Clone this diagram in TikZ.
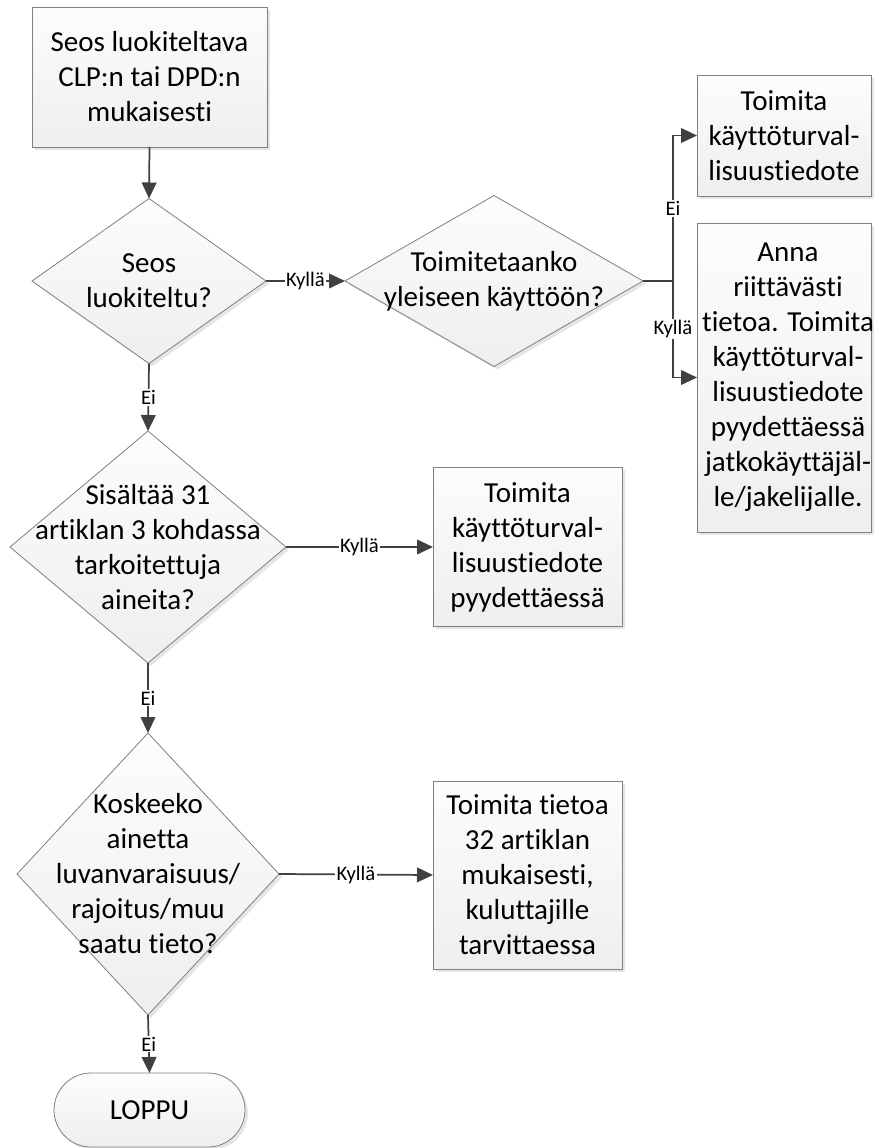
\documentclass[tikz,border=0pt]{standalone}
\usepackage{fontspec}
\setmainfont{Carlito}[Ligatures={NoCommon}]
\usetikzlibrary{shapes.geometric,shapes.misc,arrows.meta,shadows}
\definecolor{edgegray}{RGB}{128,128,128}
\definecolor{conngray}{RGB}{64,64,64}
\tikzset{
  shapebase/.style={draw=edgegray, line width=0.6pt, top color=gray!2, bottom color=gray!13,
    drop shadow={shadow xshift=2.2pt, shadow yshift=-2.2pt, fill=gray!50, opacity=0.4},
    inner sep=0pt, outer sep=0pt},
  procbox/.style={shapebase, rectangle},
  decision/.style={shapebase, diamond, aspect=1},
  terminal/.style={shapebase, rounded rectangle},
  txt/.style={align=center, inner sep=0pt, text=black, font=\fontsize{21.75}{26.25}\selectfont},
  lbl/.style={fill=white, inner sep=1pt, text=black, font=\fontsize{15.5}{18}\selectfont},
  conn/.style={draw=conngray, line width=1.3pt, -{Triangle[length=12pt,width=11pt]}},
  plain/.style={draw=conngray, line width=1.3pt}
}
\begin{document}
\begin{tikzpicture}[x=0.75pt, y=-0.75pt]
\useasboundingbox[fill=white] (0,0) rectangle (878,1148);

% shapes
\node[procbox, minimum width=176.25pt, minimum height=105pt] (b1) at (149.5,77) {};
\node[decision, minimum width=175.5pt, minimum height=123.75pt] (d1) at (149,281) {};
\node[decision, minimum width=223.5pt, minimum height=128.25pt] (d4) at (494,281) {};
\node[procbox, minimum width=130.5pt, minimum height=90.75pt] (b5) at (784,135.5) {};
\node[procbox, minimum width=130.5pt, minimum height=231.75pt] (b6) at (784,377.5) {};
\node[decision, minimum width=207pt, minimum height=174pt] (d2) at (148,547) {};
\node[procbox, minimum width=141.75pt, minimum height=119.25pt] (b3) at (527.5,547) {};
\node[decision, minimum width=196.5pt, minimum height=211.5pt] (d3) at (148,874) {};
\node[procbox, minimum width=141.75pt, minimum height=141pt] (b4) at (527.5,875) {};
\node[terminal, minimum width=143.25pt, minimum height=55.5pt] (end) at (149.5,1110) {};

% texts
\node[txt] (b1t) at (b1) {Seos luokiteltava\\CLP:n tai DPD:n\\mukaisesti};
\node[txt] (d1t) at (d1) {Seos\\luokiteltu?};
\node[txt] (d4t) at (d4) {Toimitetaanko\\yleiseen käyttöön?};
\node[txt] (b5t) at (b5) {Toimita\\käyttöturval-\\lisuustiedote};
\node[txt] (b6t) at ([xshift=3pt]b6.center) {Anna\\riittävästi\\tietoa. Toimita\\käyttöturval-\\lisuustiedote\\pyydettäessä\\jatkokäyttäjäl-\\le/jakelijalle.};
\node[txt] (d2t) at (d2) {Sisältää 31\\artiklan 3 kohdassa\\tarkoitettuja\\aineita?};
\node[txt] (b3t) at (b3) {Toimita\\käyttöturval-\\lisuustiedote\\pyydettäessä};
\node[txt] (d3t) at (d3) {Koskeeko\\ainetta\\luvanvaraisuus/\\rajoitus/muu\\saatu tieto?};
\node[txt] (b4t) at (b4) {Toimita tietoa\\32 artiklan\\mukaisesti,\\kuluttajille\\tarvittaessa};
\node[txt] (endt) at (end) {LOPPU};

% connectors
\coordinate (split) at (673,281);
\draw[conn] (b1.south) -- (d1.north);
\draw[conn] (d1.east) -- node[lbl] {Kyllä} (d4.west);
\draw[conn] (d1.south) -- node[lbl] {Ei} (d2.north);
\draw[plain] (d4.east) -- (split);
\draw[conn] (split) |- node[lbl, pos=0.25] {Ei} (b5.west);
\draw[conn] (split) |- node[lbl, pos=0.25] {Kyllä} (b6.west);
\draw[conn] (d2.east) -- node[lbl] {Kyllä} (b3.west);
\draw[conn] (d2.south) -- node[lbl] {Ei} (d3.north);
\draw[conn] (d3.east) -- node[lbl] {Kyllä} (b4.west);
\draw[conn] (d3.south) -- node[lbl] {Ei} (end.north);
\end{tikzpicture}
\end{document}
